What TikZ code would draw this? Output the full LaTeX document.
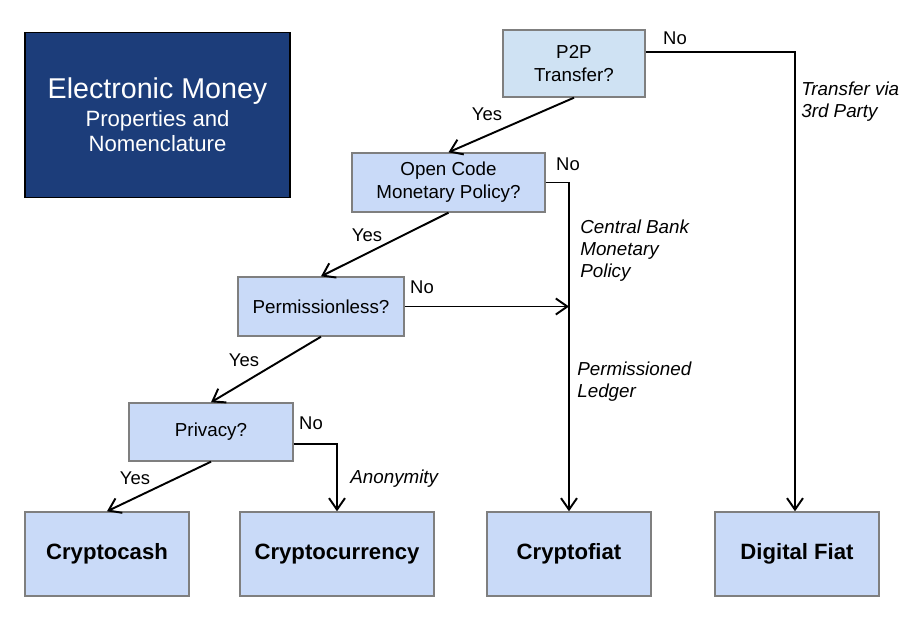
\documentclass[tikz,border=0pt]{standalone}
\usepackage{fontspec}
\setmainfont{Liberation Sans}
\usetikzlibrary{arrows.meta}
\definecolor{qfill}{HTML}{C9DAF8}
\definecolor{pfill}{HTML}{CFE2F3}
\definecolor{tfill}{HTML}{1C3D7A}
\definecolor{edge}{HTML}{7F7F7F}
\tikzset{
  qbox/.style={draw=edge, line width=0.8pt, fill=qfill, align=center,
    font=\fontsize{10.7}{13}\selectfont, inner sep=0pt},
  leaf/.style={qbox, minimum height=1.68cm, font=\fontsize{12.6}{14}\selectfont\bfseries},
  lab/.style={inner sep=0pt, font=\fontsize{10.5}{12.5}\selectfont},
  note/.style={lab, anchor=west, align=left, font=\fontsize{10.7}{12.6}\selectfont\itshape},
  arr/.style={line width=1.1pt, -{Straight Barb[length=2.3mm,width=3.2mm]}}
}
\begin{document}
\begin{tikzpicture}[x=0.02cm,y=-0.02cm]
\useasboundingbox (0,0) rectangle (923,618);
% title
\node[draw=black, line width=1pt, fill=tfill, text=white, align=center,
  minimum width=5.3cm, minimum height=3.3cm, inner sep=0pt,
  font=\fontsize{12.6}{14.2}\selectfont] (title) at (157.5,115)
  {{\fontsize{16.3}{18}\selectfont Electronic Money}\\[1.8pt]
   Properties and\\Nomenclature};
% questions
\node[qbox, fill=pfill, minimum width=2.84cm, minimum height=1.34cm] (p2p) at (574,63.5) {P2P\\Transfer?};
\node[qbox, minimum width=3.86cm, minimum height=1.18cm] (open) at (448.5,182.5) {Open Code\\Monetary Policy?};
\node[qbox, minimum width=3.32cm, minimum height=1.18cm] (perm) at (321,306.5) {Permissionless?};
\node[qbox, minimum width=3.28cm, minimum height=1.16cm] (priv) at (211,432) {Privacy?};
% outcomes
\node[leaf, minimum width=3.28cm] (cash) at (107,554) {Cryptocash};
\node[leaf, minimum width=3.88cm] (ccur) at (337,554) {Cryptocurrency};
\node[leaf, minimum width=3.28cm] (cfiat) at (569,554) {Cryptofiat};
\node[leaf, minimum width=3.28cm] (dfiat) at (797,554) {Digital Fiat};
% corners
\coordinate (c1) at (795,52);
\coordinate (c2) at (569,182.5);
\coordinate (c3) at (337,444);
% connectors
\draw[arr] (p2p.east |- c1) -- (c1) -- (c1 |- dfiat.north);
\draw[arr] (p2p.south) -- (open.north);
\draw[arr] (open.east) -- (c2) -- (c2 |- cfiat.north);
\draw[arr] (open.south) -- (perm.north);
\draw[arr] (perm.east) -- (perm.east -| c2);
\draw[arr] (perm.south) -- (priv.north);
\draw[arr] (priv.east |- c3) -- (c3) -- (c3 |- ccur.north);
\draw[arr] (priv.south) -- (cash.north);
% labels
\node[lab] (no1) at (675,38) {No};
\node[lab] (yes1) at (487,114) {Yes};
\node[lab] (no2) at (568,164) {No};
\node[lab] (yes2) at (367,235) {Yes};
\node[lab] (no3) at (422,287) {No};
\node[lab] (yes3) at (244,360) {Yes};
\node[lab] (no4) at (311,423) {No};
\node[lab] (yes4) at (135,478) {Yes};
\node[note] (via) at (801,102) {Transfer via\\3rd Party};
\node[note] (cbank) at (580,251) {Central Bank\\Monetary\\Policy};
\node[note] (pled) at (577,382) {Permissioned\\Ledger};
\node[note] (anon) at (350,479) {Anonymity};
\end{tikzpicture}
\end{document}
